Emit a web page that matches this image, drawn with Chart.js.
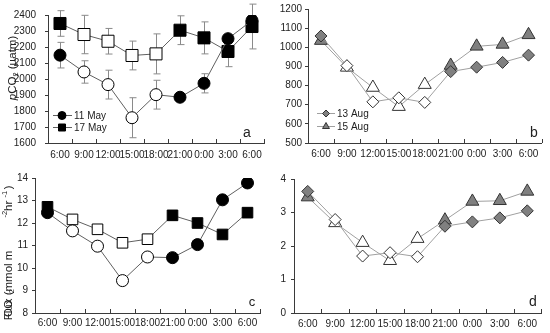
<!DOCTYPE html>
<html>
<head>
<meta charset="utf-8">
<script src="https://cdn.jsdelivr.net/npm/chart.js@4/dist/chart.umd.min.js"></script>
<style>
  html, body { margin: 0; padding: 0; background: #fff; }
  #wrap { position: relative; width: 550px; height: 333px; overflow: hidden; }
  canvas { position: absolute; }
</style>
</head>
<body>
<div id="wrap">
  <canvas id="pa" width="275" height="168" style="left:0;top:0"></canvas>
  <canvas id="pb" width="275" height="168" style="left:275px;top:0"></canvas>
  <canvas id="pc" width="275" height="165" style="left:0;top:168px"></canvas>
  <canvas id="pd" width="275" height="165" style="left:275px;top:168px"></canvas>
</div>
<script>
// ---- data ----
const hours = ['6:00', '9:00', '12:00', '15:00', '18:00', '21:00', '0:00', '3:00', '6:00'];
const openPoints = [false, true, true, true, true, false, false, false, false]; // hollow markers 9:00-18:00

const may11Pco2 = [2149, 2044, 1965, 1758, 1902, 1886, 1973, 2252, 2366];
const may11Pco2Err = [80, 70, 90, 125, 90, 0, 60, 0, 30];
const may17Pco2 = [2347, 2278, 2236, 2147, 2157, 2305, 2257, 2172, 2328];
const may17Pco2Err = [80, 120, 80, 90, 125, 90, 100, 95, 140];

const aug13Pco2 = [1059, 904, 715, 736, 712, 873, 896, 921, 959];
const aug15Pco2 = [1035, 895, 790, 690, 805, 905, 1005, 1015, 1065];

const may11Flux = [12.46, 11.65, 10.97, 9.44, 10.49, 10.46, 11.04, 13.03, 13.78];
const may17Flux = [12.72, 12.16, 11.72, 11.12, 11.28, 12.34, 12.0, 11.49, 12.46];

const aug13Flux = [3.63, 2.79, 1.70, 1.80, 1.68, 2.59, 2.72, 2.84, 3.05];
const aug15Flux = [3.46, 2.69, 2.10, 1.56, 2.22, 2.77, 3.33, 3.35, 3.63];

// ---- styling ----
const FONT = "'Liberation Sans', Arial, sans-serif";
const AXIS = '#3a3a3a';
const TEXT = '#222';
const TICK_SIZE = 10;
const blackFill = openPoints.map(o => o ? '#fff' : '#000');
const grayFill = openPoints.map(o => o ? '#fff' : '#808080');

function marker(ctx, style, x, y, r, fill, stroke) {
  ctx.beginPath();
  if (style === 'circle') ctx.arc(x, y, r, 0, 2 * Math.PI);
  else if (style === 'rect') ctx.rect(x - r, y - r, 2 * r, 2 * r);
  else if (style === 'rectRot') { ctx.moveTo(x, y - r); ctx.lineTo(x + r, y); ctx.lineTo(x, y + r); ctx.lineTo(x - r, y); ctx.closePath(); }
  else if (style === 'triangle') { ctx.moveTo(x, y - r); ctx.lineTo(x + r * 0.866, y + r / 2); ctx.lineTo(x - r * 0.866, y + r / 2); ctx.closePath(); }
  ctx.fillStyle = fill; ctx.fill();
  ctx.strokeStyle = stroke; ctx.lineWidth = 1; ctx.stroke();
}

function drawRich(ctx, parts, cx, cy) {
  ctx.save();
  ctx.translate(cx, cy);
  ctx.rotate(-Math.PI / 2);
  let total = 0;
  parts.forEach(p => { ctx.font = p.font; p.w = ctx.measureText(p.t).width; total += p.w; });
  let x = -total / 2;
  ctx.textBaseline = 'middle';
  ctx.fillStyle = TEXT;
  parts.forEach(p => { ctx.font = p.font; ctx.fillText(p.t, x, p.dy || 0); x += p.w; });
  ctx.restore();
}

const T = '11.5px ' + FONT, S = '7.5px ' + FONT;

// per-panel extras (legend, panel letter, axis title, error bars)
const extras = {
  pa: {
    letter: { t: 'a', x: 247, y: 133 },
    legend: { x1: 53, x2: 72, mx: 62, tx: 74, rows: [
      { y: 115, label: '11 May', style: 'circle', r: 4, fill: '#000', stroke: '#000', line: '#606060' },
      { y: 127, label: '17 May', style: 'rect', r: 3.5, fill: '#000', stroke: '#000', line: '#606060' }] },
    title: { x: 13, y: 68, parts: [
      { t: 'p', font: 'italic ' + T },
      { t: 'CO', font: T },
      { t: '2', font: S, dy: 3 },
      { t: ' (µatm)', font: T }] },
    errors: [may11Pco2Err, may17Pco2Err]
  },
  pb: {
    letter: { t: 'b', x: 259, y: 133 },
    legend: { x1: 42, x2: 60, mx: 51, tx: 62, rows: [
      { y: 113, label: '13 Aug', style: 'rectRot', r: 3.5, fill: '#808080', stroke: '#333', line: '#a0a0a0' },
      { y: 126, label: '15 Aug', style: 'triangle', r: 4, fill: '#808080', stroke: '#333', line: '#a0a0a0' }] }
  },
  pc: {
    letter: { t: 'c', x: 252, y: 134, size: 13 },
    title: { x: 9, y: 78, parts: [
      { t: 'CO', font: T },
      { t: '2', font: S, dy: 3 },
      { t: ' Flux (mmol m', font: T },
      { t: '-2', font: S, dy: -4 },
      { t: ' hr', font: T },
      { t: '-1', font: S, dy: -4 },
      { t: ')', font: T }] }
  },
  pd: {
    letter: { t: 'd', x: 258, y: 134 }
  }
};

const panelExtras = {
  id: 'panelExtras',
  beforeDatasetsDraw(chart) {
    const ex = extras[chart.canvas.id];
    const ctx = chart.ctx;
    const area = chart.chartArea;
    const n = hours.length;
    // inward x tick marks between categories
    ctx.save();
    ctx.strokeStyle = AXIS; ctx.lineWidth = 1;
    for (let i = 1; i <= n; i++) {
      const x = Math.round(area.left + i * (area.right - area.left) / n) + 0.5;
      ctx.beginPath(); ctx.moveTo(x, area.bottom); ctx.lineTo(x, area.bottom - 4); ctx.stroke();
    }
    // error bars
    if (ex.errors) {
      const ys = chart.scales.y;
      ctx.strokeStyle = '#8a8a8a';
      ex.errors.forEach((errs, di) => {
        const meta = chart.getDatasetMeta(di);
        const vals = chart.data.datasets[di].data;
        errs.forEach((e, i) => {
          if (!e) return;
          const x = Math.round(meta.data[i].x) + 0.5;
          const yt = ys.getPixelForValue(vals[i] + e);
          const yb = ys.getPixelForValue(vals[i] - e);
          ctx.beginPath();
          ctx.moveTo(x, yt); ctx.lineTo(x, yb);
          ctx.moveTo(x - 3, yt); ctx.lineTo(x + 4, yt);
          ctx.moveTo(x - 3, yb); ctx.lineTo(x + 4, yb);
          ctx.stroke();
        });
      });
    }
    ctx.restore();
  },
  afterDraw(chart) {
    const ex = extras[chart.canvas.id];
    const ctx = chart.ctx;
    ctx.save();
    if (ex.letter) {
      ctx.font = (ex.letter.size || 14) + 'px ' + FONT;
      ctx.fillStyle = TEXT; ctx.textAlign = 'center'; ctx.textBaseline = 'middle';
      ctx.fillText(ex.letter.t, ex.letter.x, ex.letter.y);
    }
    if (ex.legend) {
      const lg = ex.legend;
      lg.rows.forEach(r => {
        ctx.strokeStyle = r.line; ctx.lineWidth = 1;
        ctx.beginPath(); ctx.moveTo(lg.x1, r.y + 0.5); ctx.lineTo(lg.x2, r.y + 0.5); ctx.stroke();
        marker(ctx, r.style, lg.mx, r.y + 0.5, r.r, r.fill, r.stroke);
        ctx.font = '10px ' + FONT; ctx.fillStyle = TEXT;
        ctx.textAlign = 'left'; ctx.textBaseline = 'middle';
        ctx.fillText(r.label, lg.tx, r.y + 1);
      });
    }
    if (ex.title) drawRich(ctx, ex.title.parts, ex.title.x, ex.title.y);
    ctx.restore();
  }
};

function makePanel(id, datasets, y, box) {
  new Chart(document.getElementById(id), {
    type: 'line',
    data: { labels: hours, datasets: datasets },
    options: {
      responsive: false,
      animation: false,
      layout: { padding: { top: box.top, right: box.right, left: 0, bottom: 0 } },
      plugins: { legend: { display: false }, tooltip: { enabled: false } },
      scales: {
        x: {
          type: 'category',
          offset: true,
          grid: { display: false, drawTicks: false, offset: true },
          border: { color: AXIS },
          ticks: { autoSkip: false, maxRotation: 0, minRotation: 0, padding: box.xPad,
                   color: TEXT, font: { family: FONT, size: TICK_SIZE } },
          afterFit: s => { s.height = box.xH; }
        },
        y: {
          min: y.min, max: y.max,
          grid: { drawOnChartArea: false, tickLength: 3, color: AXIS },
          border: { color: AXIS },
          ticks: { stepSize: y.step, autoSkip: false, padding: box.yPad, color: TEXT,
                   font: { family: FONT, size: TICK_SIZE }, callback: v => String(v) },
          afterFit: s => { s.width = box.yW; }
        }
      }
    },
    plugins: [panelExtras]
  });
}

function series(data, style, r, fills, line, stroke) {
  return {
    data: data, borderColor: line, borderWidth: 1, tension: 0, fill: false,
    pointStyle: style, pointRadius: r, pointHoverRadius: r,
    pointBackgroundColor: fills, pointBorderColor: stroke, pointBorderWidth: 1
  };
}

makePanel('pa', [
  series(may11Pco2, 'circle', 6, blackFill, '#606060', '#000'),
  series(may17Pco2, 'rect', 8.5, blackFill, '#606060', '#000')
], { min: 1600, max: 2400, step: 100 }, { top: 10, right: 11, xH: 25, yW: 48, xPad: 6, yPad: 9 });

makePanel('pb', [
  series(aug13Pco2, 'rectRot', 6, grayFill, '#a0a0a0', '#333'),
  series(aug15Pco2, 'triangle', 7.5, grayFill, '#a0a0a0', '#333')
], { min: 500, max: 1200, step: 100 }, { top: 9, right: 8, xH: 25, yW: 33, xPad: 5, yPad: 3 });

makePanel('pc', [
  series(may11Flux, 'circle', 6, blackFill, '#606060', '#000'),
  series(may17Flux, 'rect', 7.5, blackFill, '#606060', '#000')
], { min: 8, max: 14, step: 1 }, { top: 9, right: 15, xH: 20, yW: 35, xPad: 4, yPad: 4 });

makePanel('pd', [
  series(aug13Flux, 'rectRot', 6, grayFill, '#a0a0a0', '#333'),
  series(aug15Flux, 'triangle', 7.5, grayFill, '#a0a0a0', '#333')
], { min: 0, max: 4, step: 1 }, { top: 9, right: 9, xH: 20, yW: 19, xPad: 5, yPad: 5 });
</script>
</body>
</html>
